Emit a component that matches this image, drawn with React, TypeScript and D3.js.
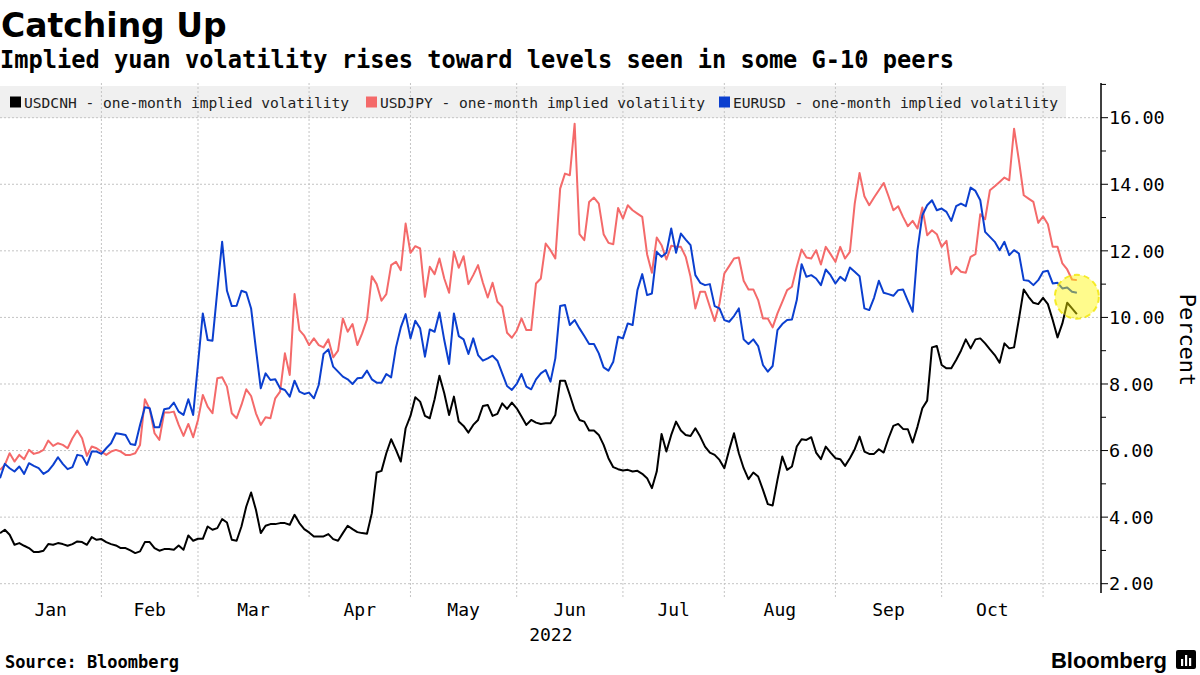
import React from 'react';
import * as d3 from 'd3';

// ---- Data (business days from 2022-01-03) ----
const USDCNH = [
  3.52, 3.62, 3.47, 3.17, 3.22, 3.14, 3.07, 2.95, 2.95, 2.99,
  3.19, 3.17, 3.22, 3.19, 3.14, 3.19, 3.27, 3.25, 3.17, 3.40,
  3.32, 3.34, 3.25, 3.19, 3.15, 3.07, 3.07, 3.00, 2.92, 2.97,
  3.25, 3.25, 3.07, 2.99, 3.04, 3.04, 3.02, 3.15, 3.02, 3.45,
  3.29, 3.35, 3.35, 3.72, 3.62, 3.67, 3.94, 3.84, 3.32, 3.29,
  3.72, 4.32, 4.74, 4.22, 3.52, 3.74, 3.79, 3.79, 3.82, 3.82,
  3.77, 4.07, 3.82, 3.64, 3.54, 3.42, 3.42, 3.42, 3.49, 3.34,
  3.29, 3.52, 3.74, 3.64, 3.55, 3.52, 3.50, 4.12, 5.34, 5.39,
  5.92, 6.34, 6.02, 5.67, 6.67, 7.04, 7.60, 7.47, 7.04, 6.97,
  7.54, 8.25, 7.72, 7.07, 7.62, 6.87, 6.74, 6.54, 6.77, 6.92,
  7.34, 7.37, 7.04, 7.10, 7.42, 7.25, 7.44, 7.27, 7.02, 6.77,
  6.92, 6.84, 6.80, 6.82, 6.82, 7.07, 8.10, 8.10, 7.67, 7.22,
  6.92, 6.87, 6.60, 6.60, 6.47, 6.17, 5.77, 5.50, 5.44, 5.40,
  5.42, 5.37, 5.39, 5.30, 5.17, 4.87, 5.37, 6.50, 5.97, 6.47,
  6.87, 6.60, 6.47, 6.44, 6.67, 6.42, 6.12, 5.94, 5.87, 5.72,
  5.47, 6.02, 6.52, 5.92, 5.47, 5.14, 5.34, 5.22, 4.82, 4.39,
  4.35, 5.12, 5.82, 5.42, 5.52, 6.12, 6.34, 6.32, 6.40, 5.94,
  5.74, 6.12, 5.94, 5.77, 5.74, 5.54, 5.77, 6.04, 6.42, 5.97,
  5.90, 5.90, 6.04, 5.94, 6.37, 6.74, 6.80, 6.65, 6.64, 6.24,
  6.72, 7.27, 7.50, 9.10, 9.14, 8.57, 8.47, 8.47, 8.72, 9.00,
  9.34, 9.07, 9.34, 9.37, 9.22, 9.04, 8.87, 8.64, 9.22, 9.07,
  9.10, 9.95, 10.84, 10.62, 10.44, 10.40, 10.59, 10.40, 9.92, 9.40,
  9.82, 10.44, 10.27, 10.10,
];

const USDJPY = [
  5.42, 5.57, 5.92, 5.67, 5.87, 5.74, 6.02, 5.90, 5.94, 6.02,
  6.30, 6.14, 6.22, 6.17, 6.07, 6.37, 6.60, 6.37, 5.84, 6.12,
  6.07, 5.97, 5.87, 5.97, 6.02, 5.97, 5.87, 5.87, 5.92, 6.17,
  7.54, 7.24, 6.52, 6.32, 7.14, 7.14, 7.17, 6.77, 6.44, 6.80,
  6.40, 6.92, 7.67, 7.32, 7.12, 8.17, 8.20, 7.92, 7.12, 6.97,
  7.37, 7.84, 7.64, 7.12, 6.77, 7.00, 6.97, 7.57, 7.77, 8.92,
  8.27, 10.70, 9.62, 9.45, 9.17, 9.37, 9.17, 9.10, 9.34, 8.80,
  9.00, 9.97, 9.57, 9.80, 9.17, 9.52, 9.94, 11.24, 11.00, 10.50,
  10.70, 11.57, 11.67, 11.42, 12.82, 11.94, 12.14, 12.07, 10.62, 11.52,
  11.30, 11.77, 11.17, 10.74, 11.97, 11.49, 11.84, 11.00, 11.27, 11.57,
  11.04, 10.60, 11.04, 10.47, 10.32, 9.54, 9.39, 9.60, 9.97, 9.62,
  9.62, 11.02, 11.17, 12.22, 12.02, 11.77, 13.87, 14.32, 14.27, 15.82,
  12.50, 12.32, 13.47, 13.60, 13.42, 12.50, 12.24, 12.20, 13.29, 12.97,
  13.37, 13.22, 13.12, 13.02, 11.90, 11.34, 12.40, 12.17, 11.74, 12.15,
  12.12, 12.12, 11.82, 11.22, 10.27, 10.77, 10.77, 10.32, 9.89, 10.42,
  11.32, 11.54, 11.77, 11.80, 11.10, 10.84, 10.84, 10.52, 9.97, 9.97,
  9.70, 10.12, 10.47, 10.82, 10.92, 11.52, 12.04, 11.80, 11.77, 12.02,
  11.59, 12.12, 11.90, 11.67, 12.12, 11.77, 11.97, 13.42, 14.34, 13.64,
  13.37, 13.60, 13.82, 14.04, 13.64, 13.22, 13.34, 13.02, 12.74, 12.90,
  12.67, 13.30, 12.47, 12.62, 12.50, 12.12, 12.30, 11.30, 11.52, 11.37,
  11.34, 11.82, 11.90, 13.10, 12.95, 13.82, 13.94, 14.07, 14.20, 14.12,
  15.67, 14.72, 13.67, 13.57, 13.47, 12.84, 13.04, 12.80, 12.12, 12.12,
  11.62, 11.44, 11.14, 11.12,
];

const EURUSD = [
  5.17, 5.60, 5.47, 5.37, 5.52, 5.30, 5.62, 5.54, 5.47, 5.30,
  5.39, 5.57, 5.80, 5.60, 5.44, 5.50, 5.87, 5.84, 5.57, 5.97,
  5.97, 5.90, 6.07, 6.22, 6.52, 6.50, 6.47, 6.20, 6.17, 6.77,
  7.30, 7.27, 6.70, 6.70, 7.24, 7.27, 7.44, 7.17, 7.07, 7.54,
  7.07, 8.60, 10.12, 9.32, 9.30, 10.80, 12.27, 10.80, 10.34, 10.35,
  10.80, 10.75, 10.27, 9.05, 7.87, 8.32, 8.12, 8.14, 7.87, 7.82,
  7.62, 8.10, 7.77, 7.70, 7.74, 7.57, 7.97, 8.90, 9.04, 8.52,
  8.37, 8.22, 8.14, 8.00, 8.17, 8.19, 8.40, 8.14, 8.04, 8.04,
  8.30, 8.20, 9.10, 9.70, 10.10, 9.37, 9.90, 9.67, 8.82, 9.64,
  9.57, 10.15, 9.32, 8.60, 10.12, 9.44, 9.34, 8.90, 9.37, 8.87,
  8.70, 8.77, 8.85, 8.70, 8.32, 7.94, 7.82, 8.00, 8.30, 7.92,
  7.84, 8.14, 8.32, 8.42, 8.07, 8.77, 10.34, 10.37, 9.77, 9.92,
  9.67, 9.44, 9.20, 9.20, 8.92, 8.50, 8.40, 8.67, 9.42, 9.37,
  9.82, 9.77, 10.82, 11.30, 10.67, 10.72, 11.97, 11.82, 11.94, 12.67,
  11.94, 12.52, 12.34, 12.17, 11.27, 11.04, 10.97, 11.00, 10.34, 10.27,
  9.92, 9.87, 10.04, 10.27, 9.34, 9.20, 9.34, 9.14, 8.57, 8.37,
  8.54, 9.62, 9.80, 9.92, 9.94, 10.52, 11.60, 11.22, 11.27, 11.17,
  10.97, 11.44, 11.27, 11.02, 11.22, 11.10, 11.50, 11.37, 11.24, 10.27,
  10.22, 10.59, 11.10, 10.74, 10.70, 10.65, 10.82, 10.84, 10.50, 10.17,
  12.02, 13.07, 13.37, 13.52, 13.22, 13.27, 13.17, 12.90, 13.34, 13.42,
  13.34, 13.90, 13.80, 13.52, 12.57, 12.42, 12.27, 12.02, 12.27, 11.87,
  12.02, 11.92, 11.12, 11.10, 10.97, 11.12, 11.37, 11.40, 11.02, 11.04,
  10.87, 10.90, 10.77, 10.74,
];

const SERIES_NAMES = [
  'USDCNH - one-month implied volatility',
  'USDJPY - one-month implied volatility',
  'EURUSD - one-month implied volatility',
];
const SERIES_COLORS = ['#000000', '#f46a6a', '#0b3fcf'];
const MONTH_LABELS = ['Jan', 'Feb', 'Mar', 'Apr', 'May', 'Jun', 'Jul', 'Aug', 'Sep', 'Oct'];
const Y_MAJOR = [2, 4, 6, 8, 10, 12, 14, 16];
const Y_MINOR = [3, 5, 7, 9, 11, 13, 15, 17];
const YEAR_LABEL = '2022';

// business-day categories
function businessDays(start: Date, n: number): Date[] {
  const out: Date[] = [];
  const d = new Date(start.getTime());
  while (out.length < n) {
    const wd = d.getDay();
    if (wd !== 0 && wd !== 6) out.push(new Date(d.getTime()));
    d.setDate(d.getDate() + 1);
  }
  return out;
}

const DATES = businessDays(new Date(2022, 0, 3), 240);

const MONO = '"DejaVu Sans Mono", monospace';

export default function App() {
  const W = 1200;
  const H = 675;
  const plotRight = 1101;
  const axisTop = 83;
  const axisBottom = 593;

  const x = d3.scaleLinear().domain([0, 228]).range([0, plotRight]);
  const y = d3.scaleLinear().domain([2, 16]).range([583.7, 117.7]);

  const boundaries: number[] = [0];
  for (let i = 1; i < DATES.length; i++) {
    if (DATES[i].getMonth() !== DATES[i - 1].getMonth()) boundaries.push(i);
  }
  const gridX = boundaries.filter((b) => b > 0 && x(b) < plotRight);

  const line = d3
    .line<number>()
    .x((_, i) => x(i))
    .y((v) => y(v));

  const series = [USDCNH, USDJPY, EURUSD];
  const lastIdx = USDCNH.length - 1;

  const legendX = [10, 366, 719];

  return (
    <svg
      width={W}
      height={H}
      style={{ position: 'absolute', left: 0, top: 0, background: '#fff' }}
    >
      <text x={1} y={37} fontFamily='"DejaVu Sans", sans-serif' fontWeight="bold" fontSize={33} fill="#000">
        Catching Up
      </text>
      <text
        x={0}
        y={68}
        fontFamily={MONO}
        fontWeight="bold"
        fontSize={24}
        textLength={954}
        lengthAdjust="spacingAndGlyphs"
        fill="#000"
      >
        Implied yuan volatility rises toward levels seen in some G-10 peers
      </text>

      <rect x={0} y={86} width={1066} height={32} fill="#f0f0f0" />

      {Y_MAJOR.map((v) => (
        <line
          key={'hg' + v}
          x1={0}
          x2={plotRight}
          y1={y(v)}
          y2={y(v)}
          stroke="#c4c4c4"
          strokeWidth={1}
          strokeDasharray="2,2"
        />
      ))}
      {gridX.map((b) => (
        <line
          key={'vg' + b}
          x1={x(b)}
          x2={x(b)}
          y1={axisTop}
          y2={axisBottom + 4}
          stroke="#c4c4c4"
          strokeWidth={1}
          strokeDasharray="2,2"
        />
      ))}

      {SERIES_NAMES.map((name, k) => (
        <g key={'lg' + k}>
          <rect x={legendX[k]} y={96.5} width={11} height={11} fill={SERIES_COLORS[k]} />
          <text x={legendX[k] + 14} y={108} fontFamily={MONO} fontSize={14.6} fill="#222">
            {name}
          </text>
        </g>
      ))}

      {series.map((s, k) => (
        <path
          key={'s' + k}
          d={line(s) || ''}
          fill="none"
          stroke={SERIES_COLORS[k]}
          strokeWidth={2}
          strokeLinejoin="round"
        />
      ))}

      <circle
        cx={x(lastIdx)}
        cy={y(10.62)}
        r={22}
        fill="#fff700"
        fillOpacity={0.45}
        stroke="#f2e600"
        strokeOpacity={0.8}
        strokeWidth={2}
        strokeDasharray="6,4"
      />

      <line x1={plotRight} x2={plotRight} y1={axisTop} y2={axisBottom} stroke="#000" strokeWidth={1.5} />
      {Y_MINOR.map((v) => (
        <line key={'mt' + v} x1={plotRight} x2={plotRight + 5} y1={y(v)} y2={y(v)} stroke="#000" strokeWidth={1} />
      ))}
      {Y_MAJOR.map((v) => (
        <g key={'yt' + v}>
          <line x1={plotRight} x2={plotRight + 7} y1={y(v)} y2={y(v)} stroke="#000" strokeWidth={1} />
          <text
            x={plotRight + 8}
            y={y(v)}
            dy="0.36em"
            fontFamily={MONO}
            fontSize={18.5}
            fill="#000"
          >
            {v.toFixed(2)}
          </text>
        </g>
      ))}
      <text
        transform={`translate(1180, 340) rotate(90)`}
        textAnchor="middle"
        fontFamily={MONO}
        fontSize={22}
        fill="#000"
      >
        Percent
      </text>

      {MONTH_LABELS.map((m, k) => {
        const cx = (x(boundaries[k]) + x(boundaries[k + 1])) / 2;
        return (
          <text
            key={'m' + m}
            x={cx}
            y={616}
            textAnchor="middle"
            fontFamily={MONO}
            fontSize={18}
            fill="#000"
          >
            {m}
          </text>
        );
      })}
      <text
        x={(x(boundaries[5]) + x(boundaries[6])) / 2 - 19}
        y={641}
        textAnchor="middle"
        fontFamily={MONO}
        fontSize={18}
        fill="#000"
      >
        {YEAR_LABEL}
      </text>

      <text x={5} y={668} fontFamily={MONO} fontWeight="bold" fontSize={17} fill="#000">
        Source: Bloomberg
      </text>
      <text
        x={1167}
        y={668}
        textAnchor="end"
        fontFamily='"Liberation Sans", Arial, sans-serif'
        fontWeight="bold"
        fontSize={22}
        fill="#000"
      >
        Bloomberg
      </text>
      <g transform="translate(1176, 650)">
        <rect x={0} y={0} width={20} height={19} rx={2} fill="#000" />
        <rect x={5} y={9} width={2.2} height={7} fill="#fff" />
        <rect x={9} y={5} width={2.2} height={11} fill="#fff" />
        <rect x={13} y={8} width={2.2} height={8} fill="#fff" />
      </g>
    </svg>
  );
}
